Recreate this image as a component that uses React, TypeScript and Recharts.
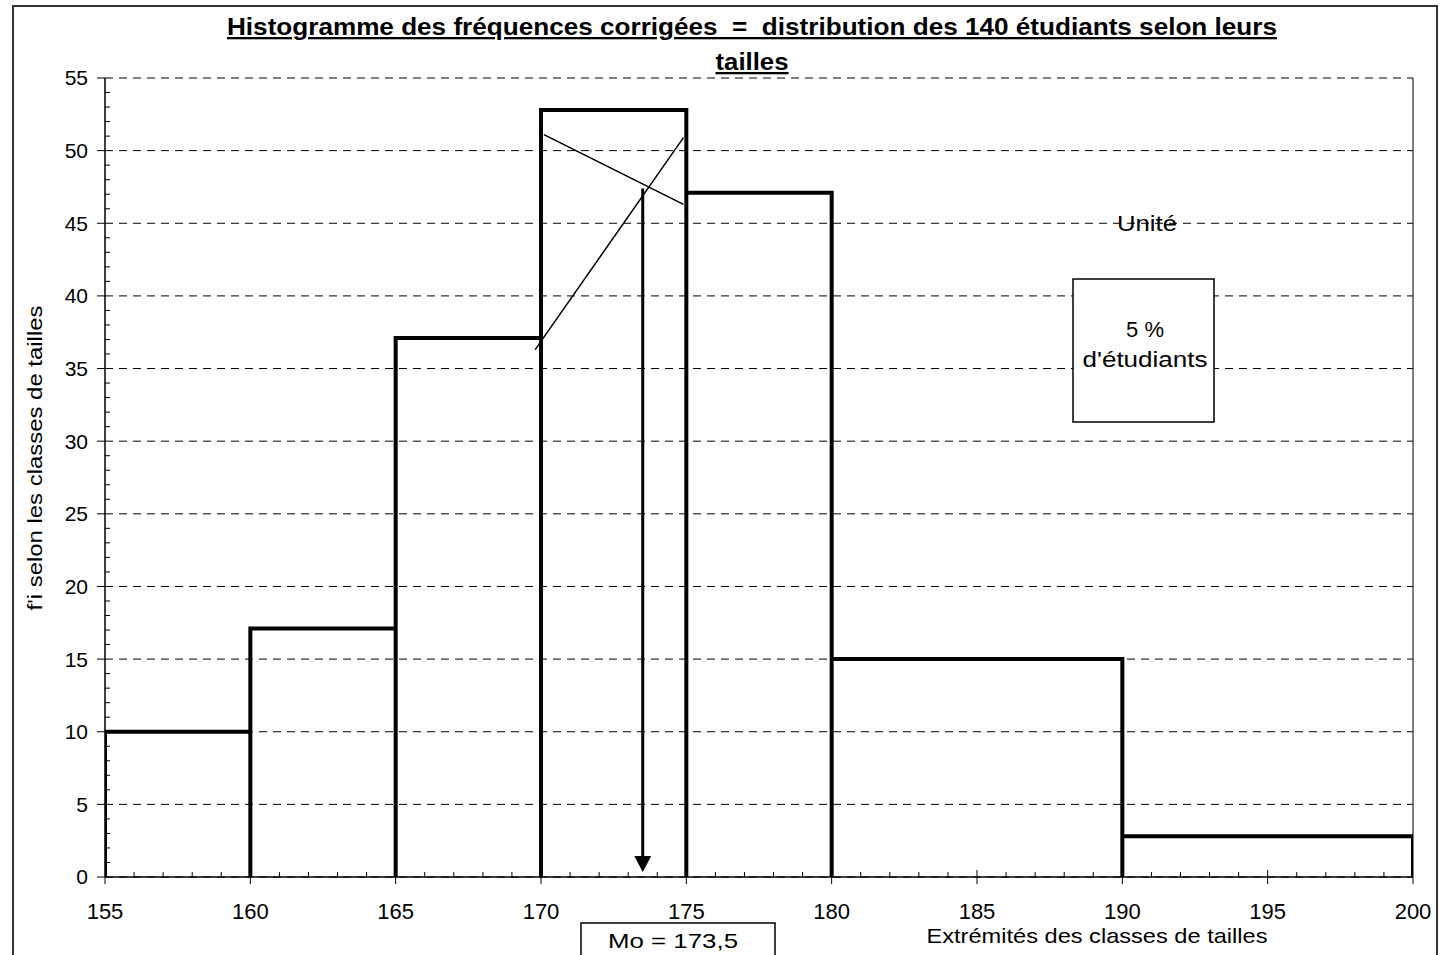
import React from 'react';
import { ComposedChart, Line, Scatter, XAxis, YAxis, CartesianGrid, ReferenceLine } from 'recharts';

// ---- data ----
const classBounds = [155, 160, 165, 170, 175, 180, 190, 200];
const freqCorrigees = [10, 17.1, 37.1, 52.8, 47.1, 15, 2.8];
const xTicks = [155, 160, 165, 170, 175, 180, 185, 190, 195, 200];
const yTicks = [0, 5, 10, 15, 20, 25, 30, 35, 40, 45, 50, 55];
const constructionLine1 = [{ x: 169.8, y: 36.3 }, { x: 174.9, y: 50.9 }];
const constructionLine2 = [{ x: 170.1, y: 51.1 }, { x: 174.9, y: 46.3 }];
const modeValue = 173.5;
const modeArrow = [{ x: modeValue, y: 47.4 }, { x: modeValue, y: 1.45 }];

// ---- derived tables ----
const outline: { x: number; y: number }[] = [{ x: classBounds[0], y: 0 }];
freqCorrigees.forEach((h, i) => {
  const lo = classBounds[i];
  const hi = classBounds[i + 1];
  outline.push({ x: lo, y: h }, { x: hi, y: h }, { x: hi, y: 0 });
});

const xTickMarks: { x: number; y: number; len: number }[] = [];
for (let v = 155; v <= 200; v++) {
  xTickMarks.push({ x: v, y: 0, len: v % 5 === 0 ? 7 : 5 });
}
const yTickMarks: { x: number; y: number; len: number }[] = [];
for (let v = 0; v <= 55; v++) {
  if (v % 5 !== 0) yTickMarks.push({ x: 155, y: v, len: 5 });
}

const FONT = 'Liberation Sans, Arial, Helvetica, sans-serif';

const XTickShape = (p: any) => (
  <line x1={p.cx} x2={p.cx} y1={p.cy} y2={p.cy - p.payload.len} stroke="#000" strokeWidth={1} />
);
const YTickShape = (p: any) => (
  <line x1={p.cx} x2={p.cx + p.payload.len} y1={p.cy} y2={p.cy} stroke="#000" strokeWidth={1} />
);

const ArrowDot = (p: any) => {
  if (p.index !== modeArrow.length - 1) return <g key={p.index} />;
  const { cx, cy } = p;
  return (
    <path key={p.index} d={`M${cx - 8.5},${cy} L${cx + 8.5},${cy} L${cx},${cy + 16} Z`} fill="#000" stroke="none" />
  );
};

export default function App() {
  return (
    <div style={{ position: 'absolute', left: 0, top: 0, width: 1443, height: 955, overflow: 'hidden', background: '#fff' }}>
      <div style={{ position: 'absolute', left: 0, top: 0 }}>
        <ComposedChart width={1443} height={955} margin={{ top: 78, right: 30, left: 45, bottom: 28 }}>
          <CartesianGrid horizontal vertical={false} stroke="#000" strokeDasharray="8 6" strokeWidth={1} />
          <XAxis
            type="number"
            dataKey="x"
            domain={[155, 200]}
            ticks={xTicks}
            allowDataOverflow
            height={50}
            tickSize={7}
            tickMargin={19}
            tickLine={{ stroke: '#000', strokeWidth: 1 }}
            axisLine={{ stroke: '#000', strokeWidth: 1.5 }}
            tick={{ fill: '#000', fontSize: 22, fontFamily: FONT }}
            interval={0}
          />
          <YAxis
            type="number"
            domain={[0, 55]}
            ticks={yTicks}
            allowDataOverflow
            width={60}
            tickSize={8}
            tickMargin={9}
            tickLine={{ stroke: '#000', strokeWidth: 1 }}
            axisLine={{ stroke: '#000', strokeWidth: 1.5 }}
            tick={{ fill: '#000', fontSize: 21, fontFamily: FONT }}
            interval={0}
          />
          <ReferenceLine x={200} stroke="#000" strokeWidth={1} />
          <Scatter data={xTickMarks} dataKey="y" shape={XTickShape} isAnimationActive={false} />
          <Scatter data={yTickMarks} dataKey="y" shape={YTickShape} isAnimationActive={false} />
          <Line
            data={outline}
            dataKey="y"
            type="linear"
            stroke="#000"
            strokeWidth={4}
            strokeLinejoin="miter"
            dot={false}
            activeDot={false}
            isAnimationActive={false}
          />
          <Line data={constructionLine1} dataKey="y" type="linear" stroke="#000" strokeWidth={1.5} dot={false} activeDot={false} isAnimationActive={false} />
          <Line data={constructionLine2} dataKey="y" type="linear" stroke="#000" strokeWidth={1.5} dot={false} activeDot={false} isAnimationActive={false} />
          <Line data={modeArrow} dataKey="y" type="linear" stroke="#000" strokeWidth={3} dot={ArrowDot} activeDot={false} isAnimationActive={false} />
        </ComposedChart>
      </div>
      <svg width={1443} height={955} style={{ position: 'absolute', left: 0, top: 0, pointerEvents: 'none' }}>
        <rect x={13} y={6} width={1424} height={1000} fill="none" stroke="#333" strokeWidth={2} />
        <text x={752} y={35} textAnchor="middle" fontFamily={FONT} fontWeight="bold" fontSize={23} textLength={1050} lengthAdjust="spacingAndGlyphs" textDecoration="underline" fill="#000" style={{ whiteSpace: 'pre' }}>
          {'Histogramme des fréquences corrigées  =  distribution des 140 étudiants selon leurs'}
        </text>
        <text x={752} y={70} textAnchor="middle" fontFamily={FONT} fontWeight="bold" fontSize={23} textLength={73} lengthAdjust="spacingAndGlyphs" textDecoration="underline" fill="#000">
          tailles
        </text>
        <text transform="translate(42,458) rotate(-90)" textAnchor="middle" fontFamily={FONT} fontSize={21} textLength={305} lengthAdjust="spacingAndGlyphs" fill="#000">
          f'i selon les classes de tailles
        </text>
        <text x={1097} y={943} textAnchor="middle" fontFamily={FONT} fontSize={21} textLength={341} lengthAdjust="spacingAndGlyphs" fill="#000">
          Extrémités des classes de tailles
        </text>
        <rect x={581} y={923} width={194} height={60} fill="#fff" stroke="#000" strokeWidth={1.5} />
        <text x={673} y={948} textAnchor="middle" fontFamily={FONT} fontSize={21} textLength={130} lengthAdjust="spacingAndGlyphs" fill="#000">
          Mo = 173,5
        </text>
        <text x={1147} y={231} textAnchor="middle" fontFamily={FONT} fontSize={22} textLength={60} lengthAdjust="spacingAndGlyphs" fill="#000">
          Unité
        </text>
        <rect x={1073} y={279} width={141} height={143} fill="#fff" stroke="#000" strokeWidth={1.5} />
        <text x={1145} y={337} textAnchor="middle" fontFamily={FONT} fontSize={22} fill="#000">
          5 %
        </text>
        <text x={1145} y={367} textAnchor="middle" fontFamily={FONT} fontSize={22} textLength={125} lengthAdjust="spacingAndGlyphs" fill="#000">
          d'étudiants
        </text>
      </svg>
    </div>
  );
}
